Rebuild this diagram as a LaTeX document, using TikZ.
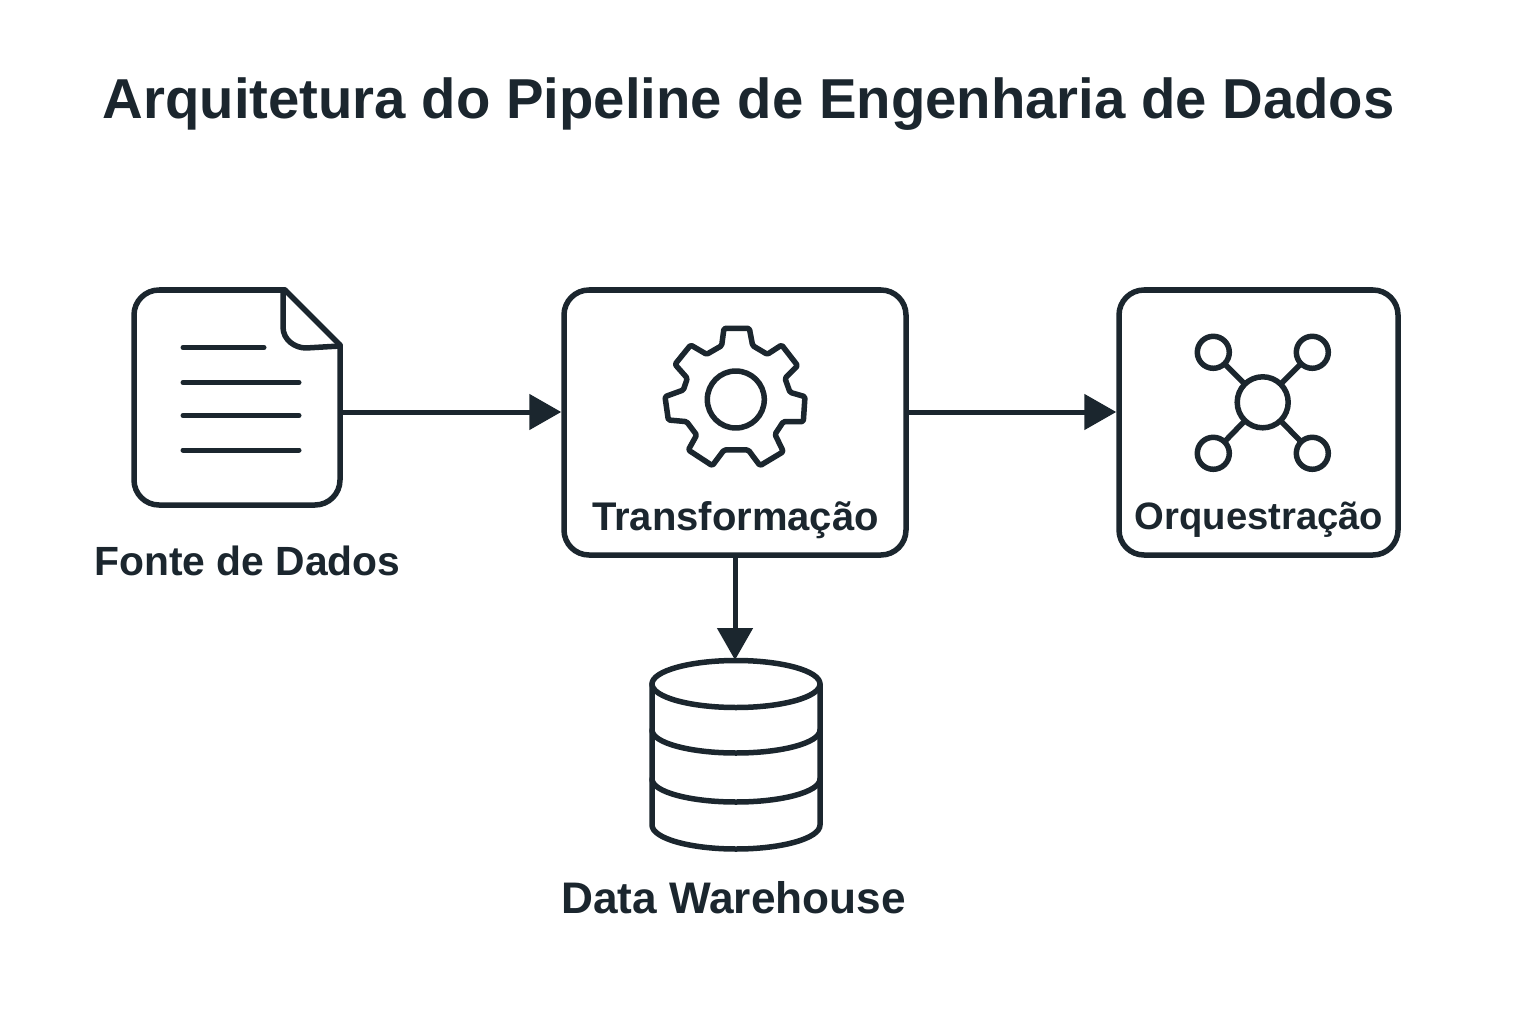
\documentclass[tikz,border=0pt]{standalone}
\usepackage{fontspec}
\setmainfont{Liberation Sans}
\usetikzlibrary{arrows.meta}
\definecolor{ink}{HTML}{1B262E}
\tikzset{
  x=1pt,y=-1pt,
  ico/.style={draw=ink,line width=5.5pt,line cap=round,line join=round},
  thin ico/.style={draw=ink,line width=5pt,line cap=round},
  panel/.style={draw=ink,line width=5.5pt,rounded corners=25pt,inner sep=0pt,fill=white},
  ghost/.style={inner sep=0pt,outer sep=0pt},
  flow/.style={draw=ink,line width=5pt,-{Triangle[length=32pt,width=35pt,fill=ink]}},
  lab/.style={text=ink,anchor=base,inner sep=0pt},
}
\newcommand{\labfont}[1]{\fontsize{#1}{#1}\selectfont\bfseries}
\begin{document}
\begin{tikzpicture}
\useasboundingbox (0,0) rectangle (1536,1024);
% title
\node[anchor=base west,inner sep=0pt,text=ink,font=\labfont{56.3}] (title) at (102.5,119) {Arquitetura do Pipeline de Engenharia de Dados};
% nodes
\node[ghost,minimum width=209pt,minimum height=218pt] (src) at (237,398) {};
\node[panel,minimum width=342pt,minimum height=265pt] (trans) at (735,422.5) {};
\node[panel,minimum width=279pt,minimum height=265pt] (orq) at (1258.5,422.5) {};
\node[ghost,minimum width=171pt,minimum height=190pt] (wh) at (736,755) {};
\coordinate (flowy) at (0,412);
% document icon
\draw[ico,rounded corners=25pt] (285,290) -- (134,290) -- (134,505) -- (340,505) -- (340,345);
\draw[ico] (285,290) -- (340,345);
\draw[ico] (283,291) -- (283,327) .. controls (283,340) and (295,348) .. (306,348) -- (340,346);
\foreach \yy/\xe in {347.5/264,382.5/299,415.5/299,450/299}
  \draw[thin ico] (183,\yy) -- (\xe,\yy);
% gear
\begin{scope}[shift={(650,315)},x=0.3333pt,y=-0.3333pt]
\draw[ico,rounded corners=1.5pt] (222,40) -- (298,40) -- (308,92) -- (352,118) -- (395,90) -- (443,152) -- (405,190) -- (420,232) -- (465,245) -- (460,320) -- (400,320) -- (375,358) -- (400,410) -- (330,452) -- (295,405) -- (222,405) -- (187,452) -- (115,405) -- (140,360) -- (110,320) -- (55,315) -- (45,245) -- (100,225) -- (112,190) -- (75,148) -- (122,90) -- (170,118) -- (215,92) -- cycle;
\end{scope}
\draw[ico] (735.8,399.5) circle[radius=28.5pt];
% network
\coordinate (hub) at (1262.7,402.3);
\draw[ico] (hub) circle[radius=25.5pt];
\foreach \sx/\sy/\sa in {1213.3/352.3/a,1312.3/352.3/b,1213.3/453.3/c,1312.3/453.3/d}{
  \draw[ico] (\sx,\sy) circle[radius=16pt];
  \coordinate (sat\sa) at (\sx,\sy);
  \draw[ico,line cap=butt,shorten >=25.5pt,shorten <=16pt] (sat\sa) -- (hub);
}
% database
\draw[ico] (652,684) arc[start angle=180,end angle=540,x radius=84pt,y radius=23.5pt];
\draw[ico] (652,684) -- (652,825) arc[start angle=180,end angle=360,x radius=84pt,y radius=24pt] -- (820,684);
\draw[ico] (652,730) arc[start angle=180,end angle=360,x radius=84pt,y radius=23pt];
\draw[ico] (652,779) arc[start angle=180,end angle=360,x radius=84pt,y radius=23pt];
% connectors
\draw[flow] (src.east |- flowy) -- (trans.west |- flowy);
\draw[flow] (trans.east |- flowy) -- (orq.west |- flowy);
\draw[flow] (trans.south) -- (wh.north -| trans.south);
% labels
\node[lab,font=\labfont{40.8}] (l1) at (247.5,575) {Fonte de Dados};
\node[lab,font=\labfont{40}] (l2) at (735.5,530) {Transformação};
\node[lab,font=\labfont{38.2}] (l3) at (1259,529) {Orquestração};
\node[lab,font=\labfont{44.2}] (l4) at (733.5,913) {Data Warehouse};
\end{tikzpicture}
\end{document}
